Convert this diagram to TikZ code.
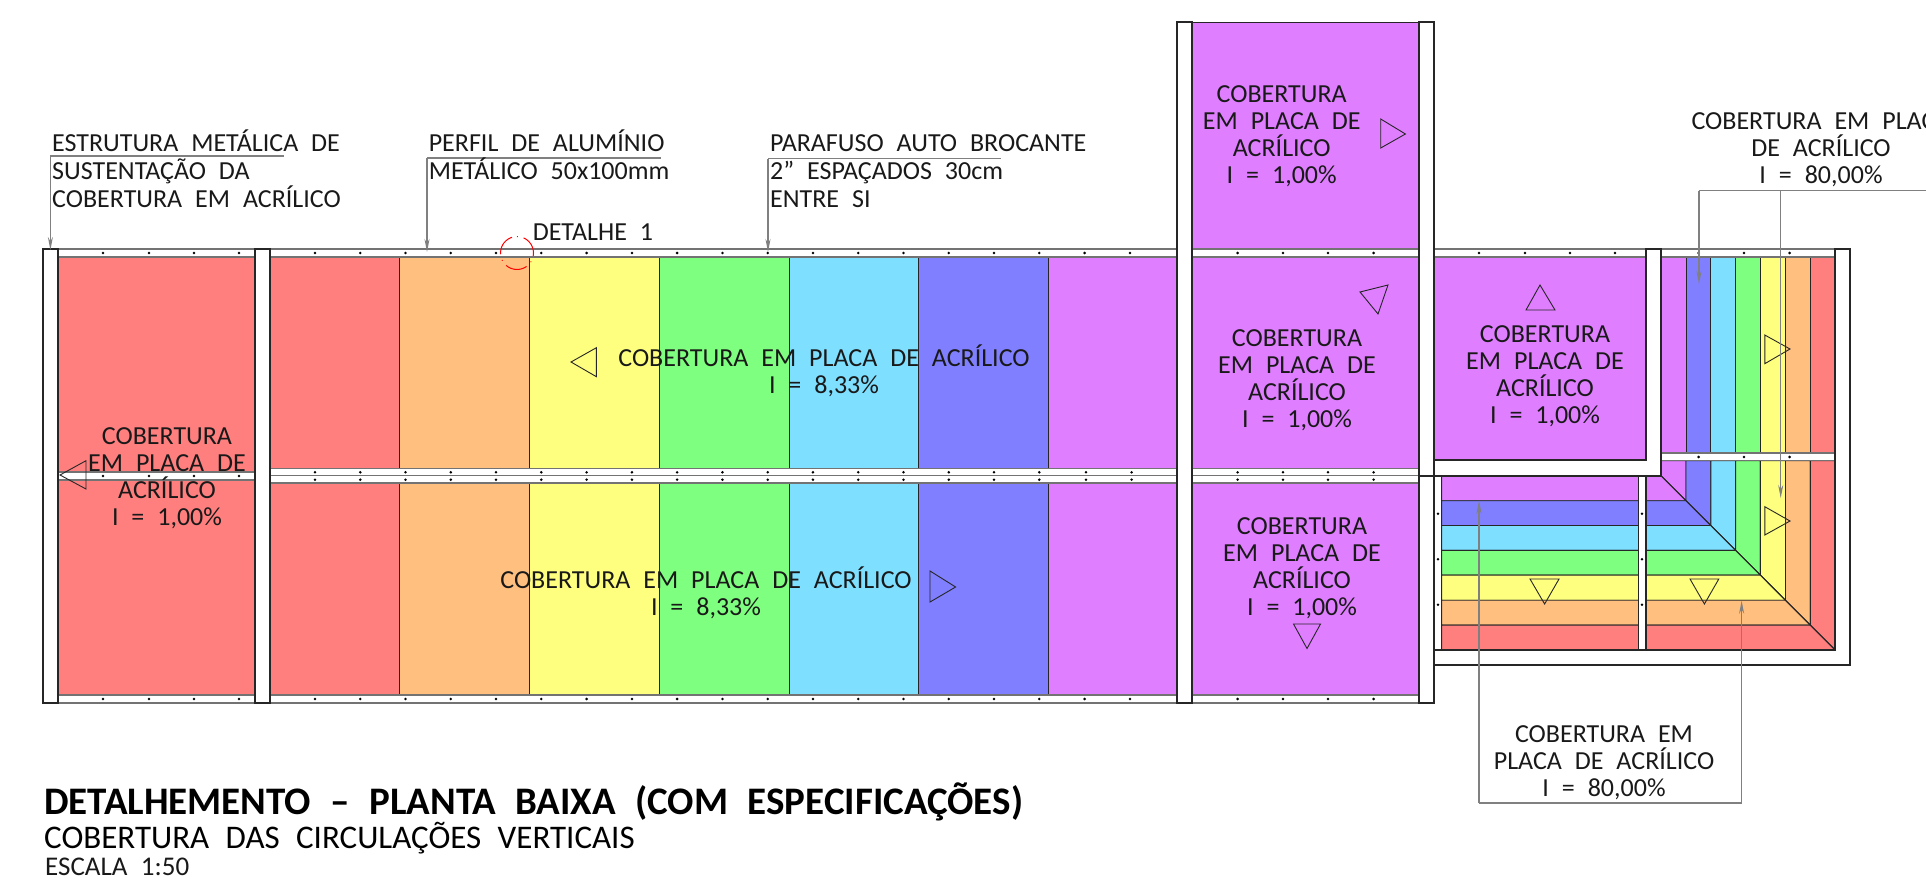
\documentclass[tikz,border=0pt]{standalone}
\usepackage{fontspec}
\setmainfont{Carlito}[WordSpace=2.2]
\usetikzlibrary{arrows.meta}
\definecolor{cRed}{HTML}{FF7F7F}
\definecolor{cOra}{HTML}{FFBF7F}
\definecolor{cYel}{HTML}{FFFF7F}
\definecolor{cGre}{HTML}{7FFF7F}
\definecolor{cCya}{HTML}{7FDFFF}
\definecolor{cBlu}{HTML}{7F7FFF}
\definecolor{cPur}{HTML}{DF7FFF}
\def\lineThickness{1.6pt}
\def\thinLine{0.9pt}
\def\dotRad{1.4}
\tikzset{post/.style={draw=black!85,fill=white,line width=\lineThickness,line join=miter}}
\tikzset{band/.style={draw=black!55,fill=white,line width=1.1pt}}
\tikzset{stripe/.style={draw=black!85,line width=\thinLine}}
\tikzset{tri/.style={draw=black!85,line width=0.9pt,line join=miter}}
\tikzset{lead/.style={draw=black!50,line width=1.3pt,-{Stealth[length=13pt,width=5pt]}}}
\tikzset{leadplain/.style={draw=black!50,line width=1.3pt}}
\tikzset{txt/.style={font=\fontsize{26}{27}\selectfont,inner sep=0,align=center,text=black!90}}
\tikzset{txtl/.style={txt,align=left,anchor=north west}}
\newcommand{\arrowTri}[3]{\draw[tri] #1--#2--#3--cycle;}
\begin{document}
\begin{tikzpicture}[x=1pt,y=-1pt]
\useasboundingbox (0,0) rectangle (1926,880);\clip (0,0) rectangle (1926,880);
% long roof
\foreach\xa/\xb/\c in {270/399.7/cRed,399.7/529.5/cOra,529.5/659.3/cYel,659.3/789/cGre,789/918.8/cCya,918.8/1048.6/cBlu,1048.6/1178/cPur}{
\draw[stripe,fill=\c] (\xa,257) rectangle (\xb,469);\draw[stripe,fill=\c] (\xa,483) rectangle (\xb,695);};
\draw[stripe,fill=cRed] (58,257) rectangle (255,472);\draw[stripe,fill=cRed] (58,480) rectangle (255,695);
% purple bays
\draw[stripe,fill=cPur] (1192,22) rectangle (1419,249);
\draw[stripe,fill=cPur] (1192,257) rectangle (1419,468);\draw[stripe,fill=cPur] (1192,483) rectangle (1419,695);
\draw[stripe,fill=cPur] (1434,257) rectangle (1646,460);
% corner with mitre
\foreach\xa/\xb/\c in {1661/1686/cPur,1686/1710.8/cBlu,1710.8/1735.6/cCya,1735.6/1760.4/cGre,1760.4/1785.5/cYel,1785.5/1810.4/cOra,1810.4/1835/cRed}{
\draw[stripe,fill=\c] (\xa,257) rectangle (\xb,453);
\draw[stripe,fill=\c] (\xa,460.7)--(\xb,460.7)--(\xb,{\xb-1185.3})--(\xa,{\xa-1185.3})--cycle;
\draw[stripe,fill=\c] (1441.6,{\xa-1185.3})--(\xa,{\xa-1185.3})--(\xb,{\xb-1185.3})--(1441.6,{\xb-1185.3})--cycle;};
% white bands
\draw[band] (43,249) rectangle (1835,257);
\draw[band] (43,695) rectangle (1434,703);
\draw[band] (58,472) rectangle (255,480);
\draw[band] (270,468.5) rectangle (1419,483);\draw[draw=black!55,line width=1.1pt] (270,475.7)--(1419,475.7);
\draw[band] (1661,453) rectangle (1835,460.7);
\foreach\a in {103,149,194,239,315,360.3,405.5,450.8,496,541.3,586.6,631.9,677.1,722.4,767.7,812.9,858.2,903.5,948.8,994,1039.3,1084.6,1130,1237.6,1283,1328,1373.6,1479,1525,1570,1615,1698.6,1744,1789.6}{
\fill (\a,253) circle (\dotRad);};
\foreach\a in {103,149,194,239,315,360.3,405.5,450.8,496,541.3,586.6,631.9,677.1,722.4,767.7,812.9,858.2,903.5,948.8,994,1039.3,1084.6,1130,1237.6,1283,1328,1373.6}{
\fill (\a,699) circle (\dotRad);};
\foreach\a in {103,149,194,239}{\fill (\a,475.9) circle (\dotRad);};
\foreach\a in {315,360.3,405.5,450.8,496,541.3,586.6,631.9,677.1,722.4,767.7,812.9,858.2,903.5,948.8,994,1039.3,1086,1131.6,1237.6,1283,1328,1373.6}{
\fill (\a,472.3) circle (\dotRad);\fill (\a,479.7) circle (\dotRad);};
\foreach\a in {1698.6,1744,1789.6}{\fill (\a,457) circle (\dotRad);};
% posts
\draw[post] (43,249) rectangle (58,703);
\draw[post] (255,249) rectangle (270,703);
\draw[post] (1177,22) rectangle (1192,703);
\draw[post] (1419,22) rectangle (1434,703);
\draw[post] (1434,475.7) rectangle (1441.6,650);
\draw[post] (1638.6,475.7) rectangle (1646,650);
\draw[post] (1646,249)--(1661,249)--(1661,475.7)--(1419,475.7)--(1434,475.7)--(1434,460)--(1646,460)--cycle;
\draw[post] (1835,249)--(1850,249)--(1850,665)--(1434,665)--(1434,650)--(1835,650)--cycle;
\draw[stripe] (1661,475.7)--(1835,650);
\foreach\b in {513.7,559.3,604.7}{\fill (1438,\b) circle (\dotRad);\fill (1642,\b) circle (\dotRad);};
% slope triangles
\arrowTri{(571,362)}{(596.4,347.7)}{(596.4,376.7)}
\arrowTri{(60,475)}{(86,460.7)}{(86,489)}
\arrowTri{(955.6,587)}{(930,571)}{(930,602)}
\arrowTri{(1405.4,134)}{(1380.7,119)}{(1380.7,148)}
\arrowTri{(1360,292)}{(1388,285)}{(1378,314)}
\arrowTri{(1540,285)}{(1526,310)}{(1555,310)}
\arrowTri{(1293.5,624)}{(1320.5,624)}{(1307,648.5)}
\arrowTri{(1790,349)}{(1764.8,335)}{(1764.8,363.7)}
\arrowTri{(1790,521)}{(1764.8,506.7)}{(1764.8,535)}
\arrowTri{(1544.6,604)}{(1530,579)}{(1559,579)}
\arrowTri{(1704.4,604)}{(1690,579)}{(1718.8,579)}
% leaders
\coordinate(e1) at (50.4,156);\coordinate(e2) at (284,156);\coordinate(e3) at (50.4,250);
\draw[leadplain] (e1)--(e2);\draw[lead] (e1)--(e3);
\coordinate(p1) at (427,158);\coordinate(p2) at (661,158);\coordinate(p3) at (427,252);
\draw[leadplain] (p1)--(p2);\draw[lead] (p1)--(p3);
\coordinate(f1) at (768,158.5);\coordinate(f2) at (1001,158.5);\coordinate(f3) at (768,252);
\draw[leadplain] (f1)--(f2);\draw[lead] (f1)--(f3);
\coordinate(c1) at (1699,190.7);\coordinate(c2) at (1780.7,190.7);\coordinate(c3) at (1926,190.7);\coordinate(c4) at (1699,284);\coordinate(c5) at (1780.7,498);
\draw[leadplain] (c1)--(c3);\draw[lead] (c1)--(c4);\draw[lead] (c2)--(c5);
\coordinate(b1) at (1479,803);\coordinate(b2) at (1741.6,803);\coordinate(b3) at (1479,500.7);\coordinate(b4) at (1741.6,600.7);
\draw[leadplain] (b1)--(b2);\draw[lead] (b1)--(b3);\draw[lead] (b2)--(b4);
% detail mark
\draw[red,line width=1pt,dash pattern=on 0.8pt off 6pt on 22pt off 6pt] (517,236.5) arc (-90:270:16.5);
% texts
\node[txtl] (lblEstrutura) at (52,130) {ESTRUTURA METÁLICA DE\\[1pt]SUSTENTAÇÃO DA\\[1pt]COBERTURA EM ACRÍLICO};
\node[txtl] (lblPerfil) at (428.6,130) {PERFIL DE ALUMÍNIO\\[1pt]METÁLICO 50x100mm};
\node[txtl] (lblParafuso) at (770,134) {PARAFUSO AUTO BROCANTE\\[1pt]2" ESPAÇADOS 30cm\\[1pt]ENTRE SI};
\node[txtl] (lblDetalhe) at (532.6,224) {DETALHE 1};
\node[txt] (lblLeft) at (167,478.5) {COBERTURA\\EM PLACA DE\\ACRÍLICO\\I = 1,00\%};
\node[txt] (lblTop) at (1281.7,136.5) {COBERTURA\\EM PLACA DE\\ACRÍLICO\\I = 1,00\%};
\node[txt] (lblMid) at (1297,380.5) {COBERTURA\\EM PLACA DE\\ACRÍLICO\\I = 1,00\%};
\node[txt] (lblBox) at (1545,376.5) {COBERTURA\\EM PLACA DE\\ACRÍLICO\\I = 1,00\%};
\node[txt] (lblBot) at (1302,568.5) {COBERTURA\\EM PLACA DE\\ACRÍLICO\\I = 1,00\%};
\node[txt] (lblLongA) at (824,371) {COBERTURA EM PLACA DE ACRÍLICO\\I = 8,33\%};
\node[txt] (lblLongB) at (706,593) {COBERTURA EM PLACA DE ACRÍLICO\\I = 8,33\%};
\node[txt] (lblRight) at (1821,149.5) {COBERTURA EM PLACA\\DE ACRÍLICO\\I = 80,00\%};
\node[txt] (lblUnder) at (1604,763) {COBERTURA EM\\PLACA DE ACRÍLICO\\I = 80,00\%};
\node[inner sep=0,anchor=west,font=\fontsize{39}{44}\selectfont\bfseries] (lblTitle) at (44,802) {DETALHEMENTO – PLANTA BAIXA (COM ESPECIFICAÇÕES)};
\node[inner sep=0,anchor=west,font=\fontsize{33}{36}\selectfont] (lblSub) at (44,838) {COBERTURA DAS CIRCULAÇÕES VERTICAIS};
\node[inner sep=0,anchor=west,font=\fontsize{27}{27}\selectfont,text=black!90] (lblScale) at (45,866.5) {ESCALA 1:50};
\end{tikzpicture}
\end{document}
